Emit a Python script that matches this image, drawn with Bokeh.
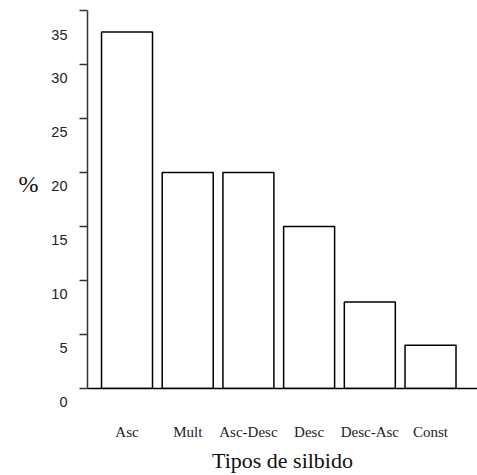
from bokeh.plotting import figure
from bokeh.models import Range1d, FixedTicker, ColumnDataSource
from bokeh.embed import file_html
from bokeh.resources import INLINE

categories = ["Asc", "Mult", "Asc-Desc", "Desc", "Desc-Asc", "Const"]
percent = [33, 20, 20, 15, 8, 4]
y_ticks = [0, 5, 10, 15, 20, 25, 30, 35]
y_tick_labels = [str(t) for t in y_ticks]
x_title = "Tipos de silbido"
y_title = "%"

idx = list(range(len(categories)))
x_start, x_end = -0.651, 5.774

p = figure(width=477, height=475, output_backend="svg", toolbar_location=None,
           x_range=Range1d(x_start, x_end), y_range=Range1d(0, 35),
           min_border_left=87, min_border_top=10, min_border_right=0, min_border_bottom=87)
p.outline_line_color = None
p.xgrid.visible = False
p.ygrid.visible = False
p.background_fill_color = "white"
p.border_fill_color = "white"

src = ColumnDataSource(dict(x=idx, top=percent, cat=categories))
p.vbar(x="x", top="top", bottom=0, width=0.84, source=src,
       fill_color="white", line_color="black", line_width=1.5)

# x axis
xa = p.xaxis[0]
xa.ticker = FixedTicker(ticks=idx)
xa.major_label_overrides = {i: c for i, c in zip(idx, categories)}
xa.major_tick_in = 0
xa.major_tick_out = 0
xa.minor_tick_line_color = None
xa.axis_line_color = "black"
xa.axis_line_width = 1.5
xa.major_label_standoff = 35
xa.major_label_text_font = "Liberation Serif"
xa.major_label_text_font_size = "15px"
xa.major_label_text_color = "#222222"
xa.axis_label = x_title
xa.axis_label_text_font = "Liberation Serif"
xa.axis_label_text_font_size = "22px"
xa.axis_label_text_font_style = "normal"
xa.axis_label_text_color = "#111111"
xa.axis_label_standoff = 5

# y axis: tick labels sit a little below their ticks (leading blank line)
ya = p.yaxis[0]
ya.ticker = FixedTicker(ticks=y_ticks)
ya.major_label_overrides = {t: "\n" + s for t, s in zip(y_ticks, y_tick_labels)}
ya.major_label_text_line_height = 1.65
ya.major_tick_in = 0
ya.major_tick_out = 8
ya.minor_tick_line_color = None
ya.axis_line_color = "#333333"
ya.axis_line_width = 1.5
ya.major_tick_line_color = "#333333"
ya.major_tick_line_width = 1.5
ya.major_label_standoff = 12
ya.major_label_text_font = "Liberation Sans"
ya.major_label_text_font_size = "14.5px"
ya.major_label_text_color = "#222222"
ya.axis_label = y_title + "\n"
ya.axis_label_orientation = "horizontal"
ya.axis_label_text_font = "Liberation Serif"
ya.axis_label_text_font_size = "24px"
ya.axis_label_text_font_style = "normal"
ya.axis_label_text_color = "#111111"
ya.axis_label_standoff = 10

open("out.html", "w").write(file_html(p, INLINE))
